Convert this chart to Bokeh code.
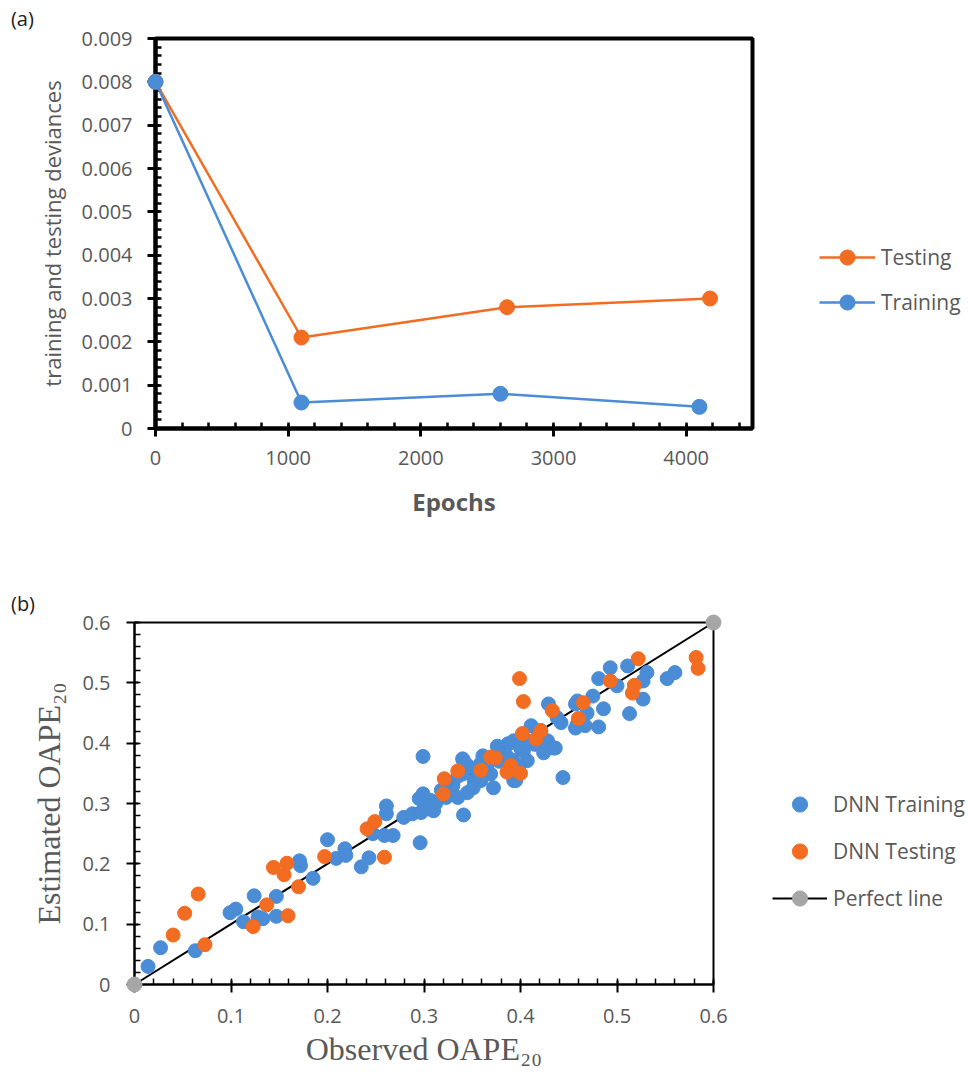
from bokeh.plotting import figure
from bokeh.models import (FixedTicker, CustomJSTickFormatter, Legend, LegendItem, Range1d)
from bokeh.core.properties import value
from bokeh.layouts import column, row
from bokeh.embed import file_html
from bokeh.resources import INLINE

# ---------------- data: panel (a) ----------------
epochs_testing = [0, 1100, 2650, 4180]
deviance_testing = [0.0080, 0.0021, 0.0028, 0.0030]
epochs_training = [0, 1100, 2600, 4100]
deviance_training = [0.0080, 0.0006, 0.0008, 0.0005]
a_x_ticks = [0, 1000, 2000, 3000, 4000]
a_y_ticks = [0, 0.001, 0.002, 0.003, 0.004, 0.005, 0.006, 0.007, 0.008, 0.009]

# ---------------- data: panel (b) ----------------
train_obs = [0.014, 0.027, 0.063, 0.099, 0.105, 0.113, 0.124, 0.128, 0.133, 0.147,
             0.147, 0.171, 0.172, 0.185, 0.200, 0.209, 0.218, 0.219, 0.235, 0.243,
             0.247, 0.259, 0.268, 0.261, 0.261, 0.279, 0.288, 0.297, 0.310, 0.296,
             0.299, 0.295, 0.307, 0.323, 0.299, 0.341, 0.304, 0.325, 0.335, 0.345,
             0.340, 0.345, 0.352, 0.361, 0.369, 0.372, 0.380, 0.387, 0.393, 0.400,
             0.407, 0.393, 0.411, 0.421, 0.428, 0.434, 0.429, 0.438, 0.457, 0.459,
             0.444, 0.493, 0.481, 0.511, 0.531, 0.500, 0.527, 0.552, 0.560, 0.527,
             0.513, 0.486, 0.475, 0.481, 0.459, 0.469, 0.457, 0.467, 0.442, 0.403,
             0.424, 0.436, 0.359, 0.341, 0.340, 0.351, 0.328, 0.395, 0.330, 0.335,
             0.355, 0.365, 0.378, 0.385, 0.392, 0.398, 0.405, 0.415, 0.418, 0.376,
             0.366, 0.358, 0.390, 0.318, 0.312]
train_est = [0.030, 0.061, 0.056, 0.119, 0.125, 0.104, 0.147, 0.112, 0.109, 0.146,
             0.113, 0.205, 0.197, 0.176, 0.240, 0.209, 0.225, 0.214, 0.195, 0.210,
             0.250, 0.247, 0.247, 0.296, 0.283, 0.277, 0.283, 0.285, 0.288, 0.235,
             0.316, 0.308, 0.305, 0.310, 0.378, 0.281, 0.291, 0.316, 0.310, 0.318,
             0.374, 0.363, 0.338, 0.379, 0.349, 0.326, 0.387, 0.399, 0.404, 0.392,
             0.371, 0.338, 0.429, 0.421, 0.404, 0.392, 0.465, 0.442, 0.465, 0.432,
             0.343, 0.525, 0.507, 0.528, 0.517, 0.495, 0.503, 0.507, 0.517, 0.473,
             0.449, 0.457, 0.478, 0.427, 0.470, 0.450, 0.425, 0.429, 0.434, 0.387,
             0.384, 0.392, 0.338, 0.371, 0.349, 0.326, 0.326, 0.338, 0.330, 0.345,
             0.355, 0.362, 0.370, 0.380, 0.372, 0.360, 0.405, 0.398, 0.412, 0.395,
             0.350, 0.365, 0.353, 0.322, 0.300]
test_obs = [0.040, 0.052, 0.066, 0.073, 0.123, 0.137, 0.144, 0.155, 0.158, 0.159,
            0.170, 0.197, 0.241, 0.249, 0.259, 0.320, 0.321, 0.335, 0.359, 0.369,
            0.374, 0.386, 0.390, 0.400, 0.399, 0.403, 0.402, 0.416, 0.421, 0.433,
            0.460, 0.465, 0.493, 0.516, 0.518, 0.522, 0.582, 0.584]
test_est = [0.082, 0.118, 0.150, 0.066, 0.096, 0.132, 0.194, 0.182, 0.201, 0.114,
            0.162, 0.212, 0.258, 0.270, 0.211, 0.316, 0.341, 0.354, 0.355, 0.377,
            0.376, 0.352, 0.363, 0.350, 0.507, 0.469, 0.416, 0.407, 0.420, 0.454,
            0.441, 0.467, 0.503, 0.483, 0.496, 0.540, 0.542, 0.524]
perfect_x = [0.0, 0.6]
perfect_y = [0.0, 0.6]
b_ticks = [0, 0.1, 0.2, 0.3, 0.4, 0.5, 0.6]

ORANGE = "#F26C22"
BLUE = "#4A8CD6"
GREYPT = "#A6A6A6"
TXT = "#595959"
FONT = "Open Sans"
SERIF = "Liberation Serif"

# ================= panel (a) =================
p1 = figure(frame_width=597, frame_height=390, min_border_left=155, min_border_right=217,
            min_border_top=38, min_border_bottom=132,
            x_range=Range1d(0, 4500), y_range=Range1d(0, 0.009),
            output_backend="svg", toolbar_location=None)
p1.xgrid.visible = False
p1.ygrid.visible = False
p1.outline_line_color = "black"
p1.outline_line_width = 4
p1.background_fill_color = "white"
p1.border_fill_color = "white"

p1.xaxis.ticker = FixedTicker(ticks=a_x_ticks, minor_ticks=list(range(0, 4501, 200)))
p1.yaxis.ticker = FixedTicker(ticks=a_y_ticks,
                              minor_ticks=[i * 0.0002 for i in range(0, 46)])
p1.xaxis.formatter = CustomJSTickFormatter(code="return tick.toFixed(0);")
p1.yaxis.formatter = CustomJSTickFormatter(code="return tick == 0 ? '0' : tick.toFixed(3);")

for ax in (p1.xaxis, p1.yaxis):
    ax.axis_line_color = "black"
    ax.axis_line_width = 4
    ax.major_tick_line_color = "black"
    ax.major_tick_line_width = 3
    ax.minor_tick_line_color = "black"
    ax.minor_tick_line_width = 2.5
    ax.major_tick_in = 4
    ax.major_tick_out = 8
    ax.minor_tick_in = 6
    ax.minor_tick_out = 0
    ax.major_label_text_font = FONT
    ax.major_label_text_font_size = "20px"
    ax.major_label_text_color = TXT
    ax.axis_label_text_font = FONT
    ax.axis_label_text_color = TXT
    ax.axis_label_text_font_style = "normal"

p1.xaxis.major_label_standoff = 14
p1.yaxis.major_label_standoff = 15
p1.xaxis.axis_label = "Epochs"
p1.xaxis.axis_label_text_font_style = "bold"
p1.xaxis.axis_label_text_font_size = "24px"
p1.xaxis.axis_label_standoff = 17
p1.yaxis.axis_label = "training and testing deviances"
p1.yaxis.axis_label_text_font_size = "22px"
p1.yaxis.axis_label_standoff = 12

l_test = p1.line(epochs_testing, deviance_testing, line_color=ORANGE, line_width=2.5)
s_test = p1.scatter(epochs_testing, deviance_testing, size=15, fill_color=ORANGE,
                    line_color=ORANGE)
l_train = p1.line(epochs_training, deviance_training, line_color=BLUE, line_width=2.5)
s_train = p1.scatter(epochs_training, deviance_training, size=15, fill_color=BLUE,
                     line_color=BLUE)
for r in (l_test, s_test, l_train, s_train):
    r.level = "overlay"

leg1 = Legend(items=[LegendItem(label="Testing", renderers=[l_test, s_test]),
                     LegendItem(label="Training", renderers=[l_train, s_train])],
              location=(67, 107), orientation="vertical",
              glyph_width=56, glyph_height=38, spacing=7, label_standoff=6,
              padding=0, margin=0, border_line_alpha=0, background_fill_alpha=0,
              label_text_font=FONT, label_text_font_size="21px", label_text_color=TXT)
p1.add_layout(leg1, "right")

p1.text(x=[-1090], y=[0.00946], text=["(a)"], text_font=value(FONT),
        text_font_size="20px", text_color="#222222", text_baseline="middle",
        text_align="left", level="overlay")

# ================= panel (b) =================
p2 = figure(frame_width=579, frame_height=362, min_border_left=134, min_border_right=256,
            min_border_top=62, min_border_bottom=96,
            x_range=Range1d(0, 0.6), y_range=Range1d(0, 0.6),
            output_backend="svg", toolbar_location=None)
p2.xgrid.visible = False
p2.ygrid.visible = False
p2.outline_line_color = "black"
p2.outline_line_width = 2
p2.background_fill_color = "white"
p2.border_fill_color = "white"

minor_b = [i * 0.02 for i in range(0, 31)]
for ax in (p2.xaxis, p2.yaxis):
    ax.ticker = FixedTicker(ticks=b_ticks, minor_ticks=minor_b)
    ax.formatter = CustomJSTickFormatter(code="return tick == 0 ? '0' : tick.toFixed(1);")
    ax.axis_line_color = "black"
    ax.axis_line_width = 2
    ax.major_tick_line_color = "black"
    ax.major_tick_line_width = 2
    ax.minor_tick_line_color = "black"
    ax.minor_tick_line_width = 1.5
    ax.major_tick_in = 4
    ax.major_tick_out = 8
    ax.minor_tick_in = 6
    ax.minor_tick_out = 0
    ax.major_label_text_font = FONT
    ax.major_label_text_font_size = "20px"
    ax.major_label_text_color = TXT
    ax.axis_label_text_font = SERIF
    ax.axis_label_text_color = TXT
    ax.axis_label_text_font_style = "normal"
    ax.axis_label_text_font_size = "32px"

p2.xaxis.major_label_standoff = 16
p2.yaxis.major_label_standoff = 16
p2.xaxis.axis_label = "Observed OAPE\u2082\u2080"
p2.yaxis.axis_label = "Estimated OAPE\u2082\u2080"
p2.xaxis.axis_label_standoff = 5
p2.yaxis.axis_label_standoff = 12

l_perf = p2.line(perfect_x, perfect_y, line_color="black", line_width=2)
s_train_b = p2.scatter(train_obs, train_est, size=14, fill_color=BLUE, line_color=BLUE)
s_test_b = p2.scatter(test_obs, test_est, size=14, fill_color=ORANGE, line_color=ORANGE)
s_perf = p2.scatter(perfect_x, perfect_y, size=15, fill_color=GREYPT, line_color=GREYPT)
for r in (l_perf, s_train_b, s_test_b, s_perf):
    r.level = "overlay"

leg2 = Legend(items=[LegendItem(label="DNN Training", renderers=[s_train_b]),
                     LegendItem(label="DNN Testing", renderers=[s_test_b]),
                     LegendItem(label="Perfect line", renderers=[l_perf, s_perf])],
              location=(59, 67), orientation="vertical",
              glyph_width=55, glyph_height=38, spacing=9, label_standoff=6,
              padding=0, margin=0, border_line_alpha=0, background_fill_alpha=0,
              label_text_font=FONT, label_text_font_size="21px", label_text_color=TXT)
p2.add_layout(leg2, "right")

p2.text(x=[-0.128], y=[0.6315], text=["(b)"], text_font=value(FONT),
        text_font_size="20px", text_color="#222222", text_baseline="middle",
        text_align="left", level="overlay")

layout = column(p1, row(p2, spacing=0), spacing=0)
open("out.html", "w").write(file_html(layout, INLINE))
